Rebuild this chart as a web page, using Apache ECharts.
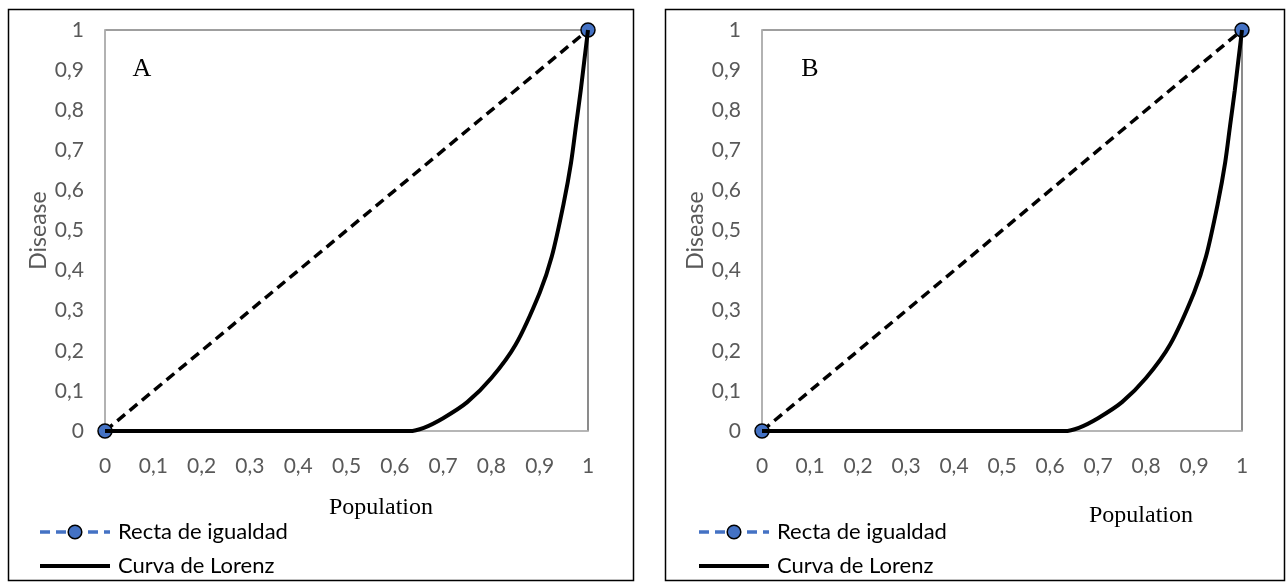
<!DOCTYPE html>
<html>
<head>
<meta charset="utf-8">
<script src="https://cdn.jsdelivr.net/npm/echarts@6/dist/echarts.min.js"></script>
<style>
html,body{margin:0;padding:0;background:#fff;}
#c{width:1288px;height:585px;}
</style>
</head>
<body>
<div id="c"></div>
<script>
const tickLabels = ['0','0,1','0,2','0,3','0,4','0,5','0,6','0,7','0,8','0,9','1'];
const equalityX = [0, 1];
const equalityY = [0, 1];
const lorenzX = [0, 0.1, 0.2, 0.3, 0.4, 0.5, 0.6, 0.63, 0.66, 0.7, 0.75, 0.8, 0.85, 0.9, 0.925, 0.95, 0.965, 0.975, 0.985, 0.993, 1];
const lorenzYA = [0, 0, 0, 0, 0, 0, 0, 0, 0.008, 0.032, 0.072, 0.132, 0.215, 0.345, 0.435, 0.57, 0.67, 0.76, 0.85, 0.93, 1];
const lorenzYB = [0, 0, 0, 0, 0, 0, 0, 0, 0.008, 0.032, 0.072, 0.132, 0.215, 0.345, 0.435, 0.57, 0.67, 0.76, 0.85, 0.93, 1];
const panelLetters = ['A', 'B'];
const seriesNames = ['Recta de igualdad', 'Curva de Lorenz'];
const xName = 'Population';
const yName = 'Disease';

const zip = (xs, ys) => xs.map((x, i) => [x, ys[i]]);
const fmt = v => tickLabels[Math.round(v * 10)] || '';

const chart = echarts.init(document.getElementById('c'));

function xAxis(gi) {
  return {
    gridIndex: gi, type: 'value', min: 0, max: 1, interval: 0.1,
    axisLine: {show: true, lineStyle: {color: '#bfbfbf', width: 1.5}},
    axisTick: {show: false}, splitLine: {show: false},
    axisLabel: {formatter: fmt, color: '#595959', fontFamily: 'Lato', fontSize: 21, margin: 25}
  };
}
function yAxis(gi) {
  return {
    gridIndex: gi, type: 'value', min: 0, max: 1, interval: 0.1,
    name: yName, nameLocation: 'middle', nameGap: 55,
    nameTextStyle: {color: '#595959', fontFamily: 'Lato', fontSize: 23},
    axisLine: {show: true, lineStyle: {color: '#bfbfbf', width: 1.5}},
    axisTick: {show: false}, splitLine: {show: false},
    axisLabel: {formatter: fmt, color: '#595959', fontFamily: 'Lato', fontSize: 21, margin: 21}
  };
}
function eqSeries(gi) {
  return {
    name: seriesNames[0], type: 'line', xAxisIndex: gi, yAxisIndex: gi,
    data: zip(equalityX, equalityY), clip: false, z: 2,
    lineStyle: {color: '#000', width: 3.5, type: [10, 6]},
    symbol: 'circle', symbolSize: 14,
    itemStyle: {color: '#4472c4', borderColor: '#000', borderWidth: 1.5}
  };
}
function lzSeries(gi, ys) {
  return {
    name: seriesNames[1], type: 'line', xAxisIndex: gi, yAxisIndex: gi,
    data: zip(lorenzX, ys), clip: false, z: 3, smooth: 0.3,
    showSymbol: false, symbol: 'none',
    lineStyle: {color: '#000', width: 4},
    itemStyle: {color: '#000'}
  };
}
function legend(left) {
  return {
    orient: 'vertical', left: left, top: 521, height: 64, padding: 0,
    itemWidth: 70, itemHeight: 17, itemGap: 12,
    selectedMode: false,
    textStyle: {color: '#000', fontFamily: 'Lato', fontSize: 22, lineHeight: 22, padding: [0, 0, 0, 3]},
    data: [
      {name: seriesNames[0],
       itemStyle: {color: '#4472c4', borderColor: '#000', borderWidth: 1.5},
       lineStyle: {color: '#4472c4', width: 3.5, type: [10, 6]}},
      {name: seriesNames[1],
       itemStyle: {color: 'rgba(0,0,0,0)', borderColor: 'rgba(0,0,0,0)', borderWidth: 0},
       lineStyle: {color: '#000', width: 4}}
    ]
  };
}
function txt(x, y, t, size) {
  return {type: 'text', x: x, y: y,
    style: {text: t, fill: '#000', font: size + 'px "Liberation Serif"', textAlign: 'center', textVerticalAlign: 'middle'}};
}

chart.setOption({
  animation: false,
  backgroundColor: '#fff',
  grid: [
    {left: 105, right: 700, top: 30, bottom: 154, show: true, borderColor: '#404040', borderWidth: 1.2},
    {left: 762, right: 46, top: 30, bottom: 154, show: true, borderColor: '#404040', borderWidth: 1.2}
  ],
  xAxis: [xAxis(0), xAxis(1)],
  yAxis: [yAxis(0), yAxis(1)],
  legend: [legend(38), legend(697)],
  series: [eqSeries(0), lzSeries(0, lorenzYA), eqSeries(1), lzSeries(1, lorenzYB)],
  graphic: [
    {type: 'rect', shape: {x: 8.5, y: 9.5, width: 625, height: 571}, style: {fill: 'none', stroke: '#000', lineWidth: 1.5}, silent: true, z: -10},
    {type: 'rect', shape: {x: 665.5, y: 9.5, width: 619, height: 571}, style: {fill: 'none', stroke: '#000', lineWidth: 1.5}, silent: true, z: -10},
    txt(142, 69, panelLetters[0], 26),
    txt(810, 69, panelLetters[1], 26),
    txt(381, 508, xName, 24),
    txt(1141, 516, xName, 24)
  ]
});
</script>
</body>
</html>
